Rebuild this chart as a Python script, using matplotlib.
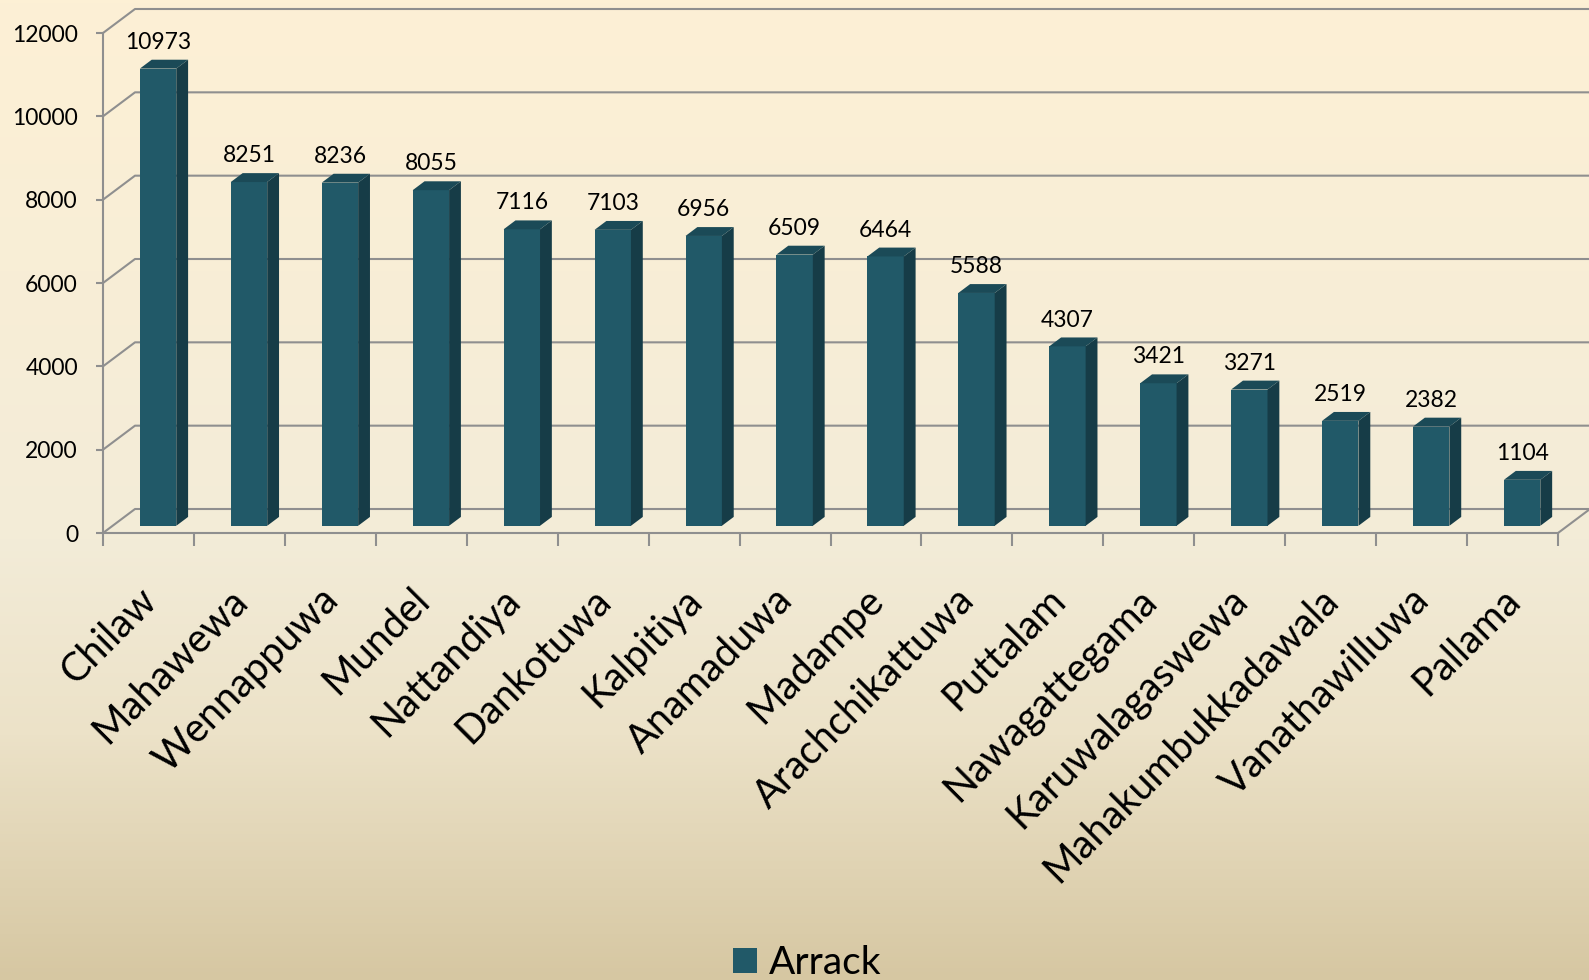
import matplotlib

matplotlib.use("Agg")
import matplotlib.pyplot as plt
import numpy as np
from matplotlib.colors import LinearSegmentedColormap
from matplotlib.patches import Patch
from matplotlib.transforms import ScaledTranslation


towns = [
    "Chilaw", "Mahawewa", "Wennappuwa", "Mundel", "Nattandiya", "Dankotuwa",
    "Kalpitiya", "Anamaduwa", "Madampe", "Arachchikattuwa", "Puttalam",
    "Nawagattegama", "Karuwalagaswewa", "Mahakumbukkadawala", "Vanathawilluwa",
    "Pallama",
]
arrack = [10973, 8251, 8236, 8055, 7116, 7103, 6956, 6509, 6464, 5588, 4307,
          3421, 3271, 2519, 2382, 1104]
y_ticks = [0, 2000, 4000, 6000, 8000, 10000, 12000]
series_name = "Arrack"

FRONT = "#215968"
SIDE = "#163c47"
TOP = "#1b4a57"
GRID = "#8f8f8f"

plt.rcParams["font.family"] = ["Lato", "DejaVu Sans"]

W, H = 1589, 980
fig = plt.figure(figsize=(W / 100, H / 100), dpi=100)

# parchment style background
bg = fig.add_axes([0, 0, 1, 1], zorder=-10)
cmap = LinearSegmentedColormap.from_list(
    "parchment",
    [(0.0, "#fdf0d5"), (0.55, "#f3ecd8"), (0.75, "#ece2c8"), (1.0, "#d6c7a2")],
)
bg.imshow(np.linspace(0, 1, 256).reshape(-1, 1), aspect="auto", cmap=cmap,
          extent=[0, 1, 0, 1])
bg.set_axis_off()

n = len(towns)
ymax = y_ticks[-1]
ax = fig.add_axes([103 / W, (H - 533) / H, 1455 / W, 500 / H])
ax.set_xlim(0, n)
ax.set_ylim(0, ymax)
ax.patch.set_visible(False)

# fake 3d depth (pixels converted to data units)
DX = 32 * n / 1455
DY = 24 * ymax / 500
F0, F1 = 0.3, 0.67
BW = 0.4

for t in y_ticks:
    ax.plot([0, DX, n + DX], [t, t + DY, t + DY], color=GRID, lw=1.5,
            clip_on=False, zorder=1)
ax.plot([n, n + DX], [0, DY], color=GRID, lw=1.5, clip_on=False, zorder=1)

for side in ("top", "right"):
    ax.spines[side].set_visible(False)
for side in ("left", "bottom"):
    ax.spines[side].set_color(GRID)
    ax.spines[side].set_linewidth(1.5)

ax.set_yticks(y_ticks)
ax.tick_params(axis="y", length=5, width=1.5, color=GRID, pad=13, labelsize=16.5)
ax.set_xticks(range(n + 1))
ax.set_xticklabels([])
ax.tick_params(axis="x", length=9.5, width=1.5, color=GRID)

label_shift = ax.get_xaxis_transform() + ScaledTranslation(0.15, -0.48, fig.dpi_scale_trans)
for i, name in enumerate(towns):
    ax.text(i + 0.5, 0, name, transform=label_shift, rotation=45,
            ha="right", va="top", fontsize=28.5)

dd = (F1 - F0) * DX
de = (F1 - F0) * DY
for i, v in enumerate(arrack):
    left = i + 0.5 - BW / 2 + F0 * DX
    right = left + BW
    y0 = F0 * DY
    top = v + F0 * DY
    ax.fill([left, right, right, left], [y0, y0, top, top], color=FRONT,
            zorder=3, clip_on=False, lw=0)
    ax.fill([right, right + dd, right + dd, right], [y0, y0 + de, top + de, top],
            color=SIDE, zorder=3, clip_on=False, lw=0)
    ax.fill([left, right, right + dd, left + dd], [top, top, top + de, top + de],
            color=TOP, zorder=3, clip_on=False, lw=0)
    ax.annotate(str(v), ((left + right) / 2, top + de), xytext=(0, 5),
                textcoords="offset points", ha="center", va="bottom",
                fontsize=16.5, annotation_clip=False)

fig.legend(handles=[Patch(facecolor=FRONT)], labels=[series_name],
           loc="lower center", bbox_to_anchor=(0.508, -0.037), frameon=False,
           fontsize=28, handlelength=0.6, handleheight=0.6, handletextpad=0.3)

fig.savefig("out.png", dpi=100)
